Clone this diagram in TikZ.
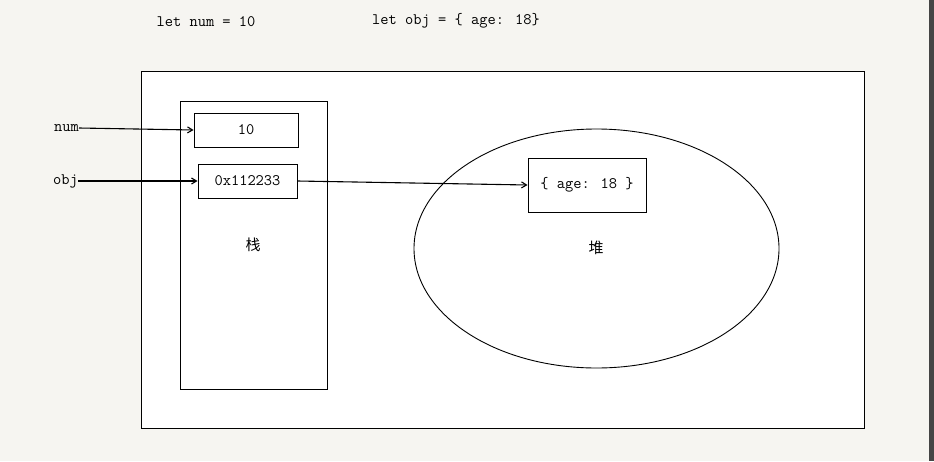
\documentclass[tikz,border=0pt]{standalone}
\usepackage{fontspec}
\newfontfamily\cjk{Noto Sans CJK SC}
\usepackage{tikz}
\usetikzlibrary{arrows.meta, positioning, shapes.geometric}

\definecolor{pagebg}{HTML}{F6F5F1}
\definecolor{edgebar}{HTML}{454545}

\begin{document}
\begin{tikzpicture}[x=1pt, y=-1pt, >={Straight Barb[length=5pt, width=6pt]},
  cell/.style={rectangle, draw, line width=0.9pt, fill=white, inner sep=0pt, font=\ttfamily\fontsize{16}{18}\selectfont},
  code/.style={font=\ttfamily\fontsize{16}{18}\selectfont},
  region/.style={draw, line width=0.9pt, inner sep=0pt},
  link/.style={->, line width=1.1pt}]

% page and margins
\fill[pagebg] (0,0) rectangle (934,461);
\fill[edgebar] (929,0) rectangle (934,461);

\node[code] (decl1) at (206,22) {let num = 10};
\node[code] (decl2) at (456,21) {let obj = \{ age: 18\}};

% memory
\node[region, fill=white, minimum width=723pt, minimum height=357pt] (mem) at (502.5,249.5) {};
\node[region, minimum width=147pt, minimum height=288pt] (stack) at (253.5,245) {};
\node[region, ellipse, minimum width=365pt, minimum height=239pt] (heap) at (596.5,248.5) {};

\node[font=\cjk\fontsize{15}{17}\selectfont] (stacklbl) at (253,245) {栈};
\node[font=\cjk\fontsize{15}{17}\selectfont] (heaplbl) at (596,248) {堆};

\node[cell, minimum width=104pt, minimum height=34pt] (numcell) at (246,130) {10};
\node[cell, minimum width=99pt, minimum height=34pt] (objcell) at (247.5,181) {0x112233};
\node[cell, minimum width=118pt, minimum height=54pt] (agecell) at (587,185) {\{ age: 18 \}};

% variables
\node[code, anchor=east, inner sep=0pt] (numvar) at (79,128) {num};
\node[code, anchor=east, inner sep=0pt] (objvar) at (78,181) {obj};

\draw[link] (numvar.east) -- (numcell.west);
\draw[link] (objvar.east) -- (objcell.west);
\draw[link] (objcell.east) -- (agecell.west);

\end{tikzpicture}
\end{document}
